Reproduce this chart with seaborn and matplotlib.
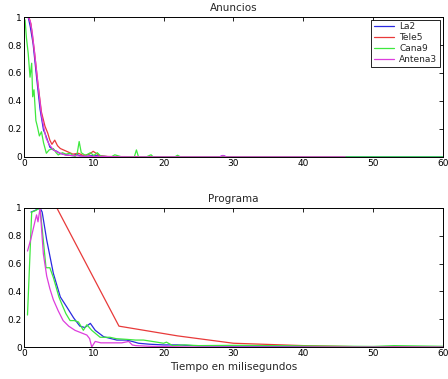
import numpy as np
import matplotlib
matplotlib.use("Agg")
import matplotlib.pyplot as plt
import seaborn as sns
import pandas as pd

# series names and colours (Matlab-like)
canales = ["La2", "Tele5", "Cana9", "Antena3"]
colores = {"La2": "#2a2ae0", "Tele5": "#e83a3a", "Cana9": "#3ee83e", "Antena3": "#dd3ddd"}

# --- Anuncios (top panel) ---
anu_la2_x = [0.6, 0.9, 1.3, 1.8, 2.3, 2.8, 3.0, 3.5, 3.7, 4.2, 4.7, 5.1, 6.1, 7.0, 7.5, 8.0, 9.0, 10.0, 12.0, 20.0, 28.0, 28.5, 29.0, 40.0, 60.0]
anu_la2_y = [1.0, 0.93, 0.81, 0.57, 0.34, 0.19, 0.17, 0.10, 0.07, 0.05, 0.04, 0.026, 0.014, 0.008, 0.02, 0.008, 0.005, 0.01, 0.002, 0.0, 0.0, 0.01, 0.0, 0.0, 0.0]

anu_tele5_x = [0.7, 1.0, 1.5, 2.0, 2.5, 3.0, 3.4, 3.7, 4.0, 4.4, 4.8, 5.2, 6.1, 7.0, 7.8, 8.5, 9.4, 9.9, 10.5, 10.9, 12.0, 20.0, 46.0]
anu_tele5_y = [1.0, 0.95, 0.75, 0.52, 0.32, 0.22, 0.17, 0.12, 0.09, 0.12, 0.08, 0.06, 0.04, 0.02, 0.026, 0.01, 0.02, 0.04, 0.02, 0.007, 0.003, 0.0, 0.0]

anu_cana9_x = [0.0, 0.15, 0.35, 0.6, 0.86, 1.1, 1.24, 1.43, 1.7, 1.9, 2.2, 2.5, 2.8, 3.2, 3.6, 4.2, 4.6, 4.9, 5.5, 6.0, 6.6, 7.3, 7.6, 7.9, 8.2, 8.8, 9.5, 10.0, 10.5, 11.0, 12.5, 13.0, 14.0, 15.8, 16.1, 16.4, 17.5, 18.2, 18.5, 20.0, 21.6, 22.0, 22.4, 24.0, 60.0]
anu_cana9_y = [0.9, 0.98, 0.85, 0.74, 0.57, 0.67, 0.43, 0.48, 0.26, 0.22, 0.15, 0.18, 0.10, 0.026, 0.05, 0.06, 0.03, 0.014, 0.03, 0.02, 0.026, 0.0, 0.02, 0.11, 0.03, 0.01, 0.03, 0.01, 0.03, 0.005, 0.0, 0.015, 0.0, 0.0, 0.05, 0.0, 0.0, 0.015, 0.0, 0.0, 0.0, 0.012, 0.0, 0.0, 0.0]

anu_antena3_x = [0.6, 0.9, 1.2, 1.5, 2.0, 2.5, 3.0, 3.2, 3.6, 4.2, 4.8, 5.2, 6.0, 7.0, 8.0, 10.0, 15.0, 28.0, 28.5, 29.0, 46.0]
anu_antena3_y = [1.0, 0.97, 0.88, 0.75, 0.52, 0.30, 0.17, 0.13, 0.09, 0.05, 0.035, 0.026, 0.012, 0.01, 0.006, 0.003, 0.0, 0.0, 0.01, 0.0, 0.0]

# --- Programa (bottom panel) ---
pro_la2_x = [1.0, 1.5, 2.3, 2.6, 3.25, 4.2, 5.2, 6.1, 7.1, 8.0, 8.7, 9.5, 10.2, 11.4, 12.5, 13.3, 14.7, 15.5, 16.4, 18.0, 20.0, 22.0, 25.0, 30.0, 35.0, 40.0, 50.0, 60.0]
pro_la2_y = [0.97, 0.98, 1.0, 0.97, 0.77, 0.53, 0.36, 0.29, 0.21, 0.15, 0.14, 0.17, 0.12, 0.074, 0.06, 0.05, 0.05, 0.04, 0.027, 0.02, 0.015, 0.015, 0.008, 0.006, 0.005, 0.003, 0.0, 0.0]

pro_tele5_x = [4.7, 13.6, 22.0, 30.0, 40.0, 50.0, 60.0]
pro_tele5_y = [1.0, 0.15, 0.08, 0.027, 0.01, 0.0, 0.0]

pro_cana9_x = [0.5, 1.1, 1.6, 2.3, 2.7, 3.15, 3.7, 4.2, 5.0, 5.4, 6.0, 6.6, 7.2, 7.8, 8.5, 9.0, 9.7, 10.9, 12.3, 13.2, 14.7, 16.0, 17.1, 18.4, 20.0, 20.4, 21.3, 23.0, 25.0, 30.0, 35.0, 40.0, 50.0, 53.0, 60.0]
pro_cana9_y = [0.23, 0.97, 0.98, 1.0, 0.8, 0.57, 0.57, 0.5, 0.36, 0.31, 0.24, 0.19, 0.19, 0.18, 0.12, 0.16, 0.12, 0.07, 0.07, 0.06, 0.055, 0.05, 0.05, 0.04, 0.027, 0.035, 0.01, 0.015, 0.01, 0.012, 0.01, 0.008, 0.004, 0.01, 0.005]

pro_antena3_x = [0.5, 1.0, 1.6, 1.8, 2.0, 2.3, 2.77, 3.25, 3.7, 4.2, 4.9, 5.6, 6.4, 7.3, 8.3, 9.0, 9.4, 9.7, 10.2, 11.0, 12.0, 14.0, 15.0, 15.5, 16.0, 18.0, 20.0, 25.0, 30.0, 40.0, 50.0, 60.0]
pro_antena3_y = [0.69, 0.78, 0.91, 0.95, 0.9, 1.0, 0.67, 0.51, 0.42, 0.34, 0.26, 0.19, 0.15, 0.12, 0.10, 0.086, 0.06, 0.0, 0.04, 0.03, 0.03, 0.03, 0.04, 0.015, 0.01, 0.005, 0.003, 0.0, 0.0, 0.0, 0.0, 0.0]

xticks = [0, 10, 20, 30, 40, 50, 60]
yticks = [0, 0.2, 0.4, 0.6, 0.8, 1]
yticklabels = ["0", "0.2", "0.4", "0.6", "0.8", "1"]


def make_frame(series):
    rows = []
    for name, (xs, ys) in series.items():
        for i, (x, y) in enumerate(zip(xs, ys)):
            rows.append({"canal": name, "t": x, "p": y, "orden": i})
    return pd.DataFrame(rows)


anuncios = make_frame({
    "La2": (anu_la2_x, anu_la2_y),
    "Tele5": (anu_tele5_x, anu_tele5_y),
    "Cana9": (anu_cana9_x, anu_cana9_y),
    "Antena3": (anu_antena3_x, anu_antena3_y),
})
programa = make_frame({
    "La2": (pro_la2_x, pro_la2_y),
    "Tele5": (pro_tele5_x, pro_tele5_y),
    "Cana9": (pro_cana9_x, pro_cana9_y),
    "Antena3": (pro_antena3_x, pro_antena3_y),
})

sns.set_style("white")
plt.rcParams['font.family'] = ['DejaVu Sans']

fig = plt.figure(figsize=(4.48, 3.79), dpi=100)
ax1 = fig.add_axes([0.0536, 0.586, 0.935, 0.369])
ax2 = fig.add_axes([0.0536, 0.0844, 0.935, 0.367])

for ax, df, titulo in [(ax1, anuncios, "Anuncios"), (ax2, programa, "Programa")]:
    sns.lineplot(data=df, x="t", y="p", hue="canal", hue_order=canales,
                 palette=colores, sort=False, estimator=None, units="canal",
                 linewidth=0.9, ax=ax, legend=(ax is ax1))
    ax.set_xlim(0, 60)
    ax.set_ylim(0, 1)
    ax.set_xticks(xticks)
    ax.set_yticks(yticks)
    ax.set_yticklabels(yticklabels)
    ax.tick_params(direction="in", length=3, width=0.6, top=True, right=True,
                   labelsize=6.5, pad=1.5, colors="black")
    for s in ax.spines.values():
        s.set_color("black")
        s.set_linewidth(0.7)
    ax.set_title(titulo, fontsize=7.5, pad=4)
    ax.set_ylabel("")
    ax.set_xlabel("")

ax2.set_xlabel("Tiempo en milisegundos", fontsize=7.5, labelpad=3)

leg = ax1.legend(loc="upper right", fancybox=False, edgecolor="black", fontsize=6.5,
                 handlelength=2.2, labelspacing=0.2, borderpad=0.3,
                 borderaxespad=0.3, handletextpad=0.6, framealpha=1)
leg.get_frame().set_linewidth(0.6)
for line in leg.get_lines():
    line.set_linewidth(0.9)

fig.savefig("out.png", dpi=100)
